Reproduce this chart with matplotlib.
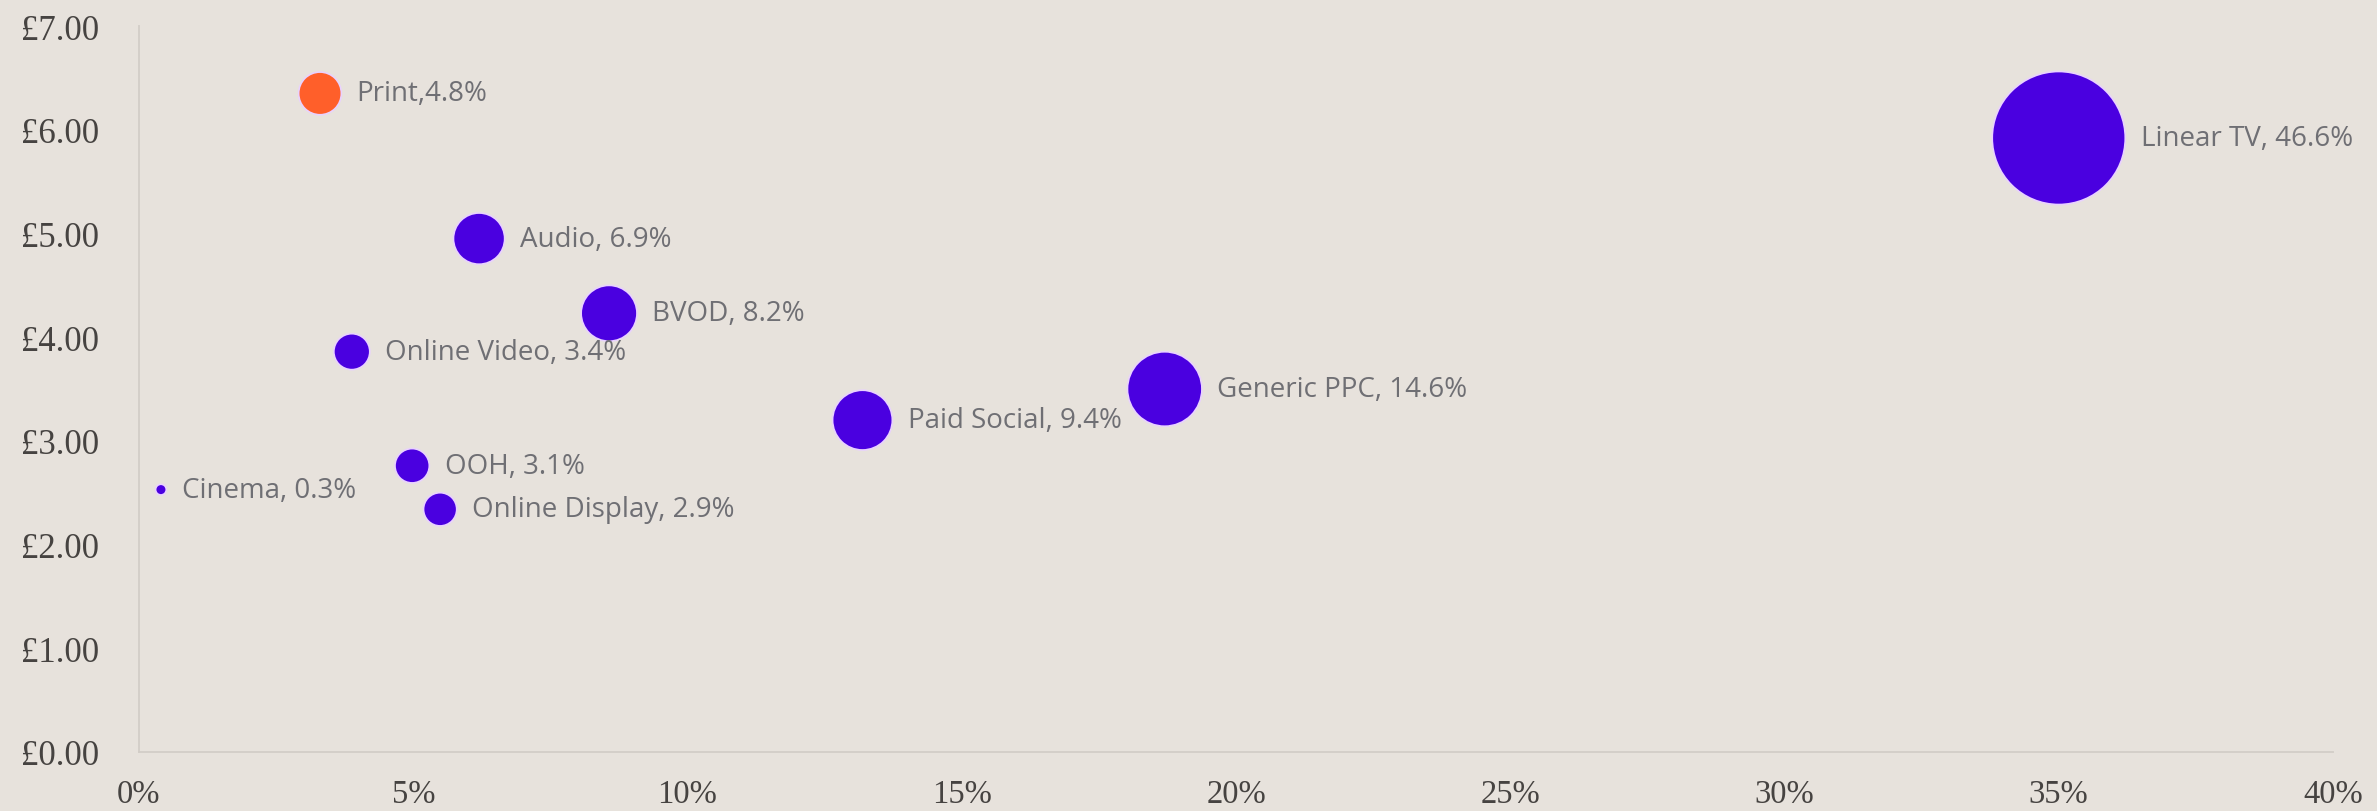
import numpy as np
import matplotlib
matplotlib.use("Agg")
import matplotlib.pyplot as plt
from matplotlib.ticker import FixedLocator

# Channel data: x = share (%), y = cost (£), bubble area = budget share (%)
channels = ["Cinema", "Print", "Online Video", "OOH", "Online Display",
            "Audio", "BVOD", "Paid Social", "Generic PPC", "Linear TV"]
x_pct = [0.40, 3.30, 3.88, 4.98, 5.49, 6.20, 8.57, 13.19, 18.70, 35.00]
y_cost = [2.53, 6.35, 3.86, 2.76, 2.34, 4.95, 4.23, 3.20, 3.50, 5.92]
share = [0.3, 4.8, 3.4, 3.1, 2.9, 6.9, 8.2, 9.4, 14.6, 46.6]
labels = ["Cinema, 0.3%", "Print,4.8%", "Online Video, 3.4%", "OOH, 3.1%",
          "Online Display, 2.9%", "Audio, 6.9%", "BVOD, 8.2%",
          "Paid Social, 9.4%", "Generic PPC, 14.6%", "Linear TV, 46.6%"]
highlight = ["Print"]

x_ticks = [0, 5, 10, 15, 20, 25, 30, 35, 40]
x_ticklabels = ["0%", "5%", "10%", "15%", "20%", "25%", "30%", "35%", "40%"]
y_ticks = [0, 1, 2, 3, 4, 5, 6, 7]
y_ticklabels = ["£0.00", "£1.00", "£2.00", "£3.00", "£4.00", "£5.00", "£6.00", "£7.00"]

BG = "#E7E2DC"
PURPLE = "#4A00E0"
ORANGE = "#FF5F2A"
LABEL_GREY = "#6F6F74"
TICK_GREY = "#464341"
SPINE = "#D2CDC7"

W, H, DPI = 2377, 812, 100
fig = plt.figure(figsize=(W / DPI, H / DPI), dpi=DPI, facecolor=BG)
ax = fig.add_axes([139 / W, 59 / H, (2333 - 139) / W, (753 - 27) / H])
ax.set_facecolor(BG)

# bubble area proportional to share; largest bubble ~96 pt across
size_scale = 196.8
sizes = np.array(share) * size_scale
colors = [ORANGE if c in highlight else PURPLE for c in channels]

ax.scatter(x_pct, y_cost, s=sizes, c=colors, edgecolors="#E9D2FF",
           linewidths=1.2, zorder=3)

for xi, yi, si, lab in zip(x_pct, y_cost, sizes, labels):
    r_pt = np.sqrt(si) / 2
    ax.annotate(lab, (xi, yi), xytext=(r_pt + 11, 0), textcoords="offset points",
                ha="left", va="center", fontsize=20, family="Open Sans",
                color=LABEL_GREY, zorder=4)

ax.set_xlim(0, 40)
ax.set_ylim(0, 7)
ax.xaxis.set_major_locator(FixedLocator(x_ticks))
ax.yaxis.set_major_locator(FixedLocator(y_ticks))
ax.set_xticklabels(x_ticklabels)
ax.set_yticklabels(y_ticklabels)

for lab in ax.get_xticklabels():
    lab.set_family("Liberation Serif")
    lab.set_fontsize(23.5)
    lab.set_color(TICK_GREY)
for lab in ax.get_yticklabels():
    lab.set_family("Liberation Serif")
    lab.set_fontsize(25)
    lab.set_color(TICK_GREY)

ax.tick_params(axis="both", length=0)
ax.tick_params(axis="x", pad=19)
ax.tick_params(axis="y", pad=29)

for side in ["top", "right"]:
    ax.spines[side].set_visible(False)
for side in ["left", "bottom"]:
    ax.spines[side].set_color(SPINE)
    ax.spines[side].set_linewidth(1.3)

fig.savefig("out.png", dpi=DPI, facecolor=BG)
